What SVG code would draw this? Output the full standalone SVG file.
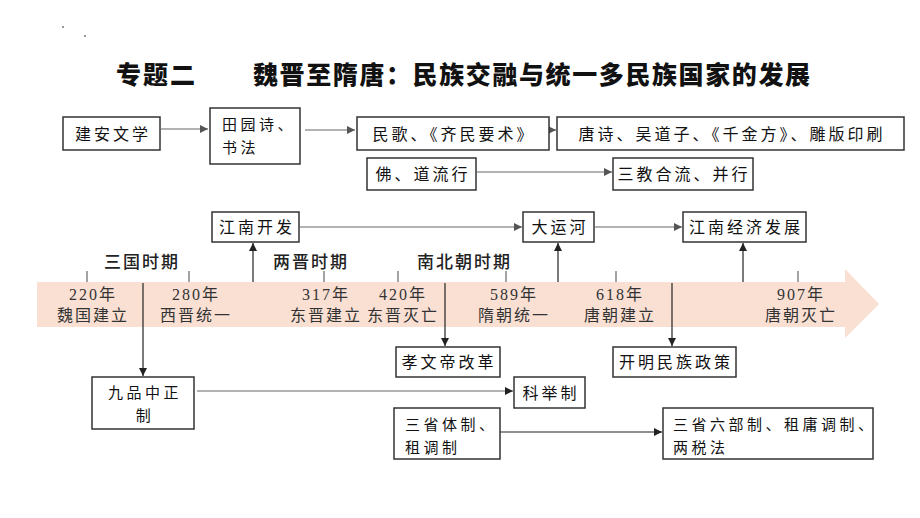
<svg xmlns="http://www.w3.org/2000/svg" width="920" height="518" viewBox="0 0 920 518">
<defs>
<marker id="ah" markerUnits="userSpaceOnUse" markerWidth="9" markerHeight="9" refX="8" refY="4" orient="auto">
<path d="M0,0 L8,4 L0,8 z" fill="#222"/>
</marker>
<marker id="ahg" markerUnits="userSpaceOnUse" markerWidth="9" markerHeight="9" refX="8" refY="4" orient="auto">
<path d="M0,0 L8,4 L0,8 z" fill="#555"/>
</marker>
<style>
.box{fill:#fff;stroke:#333;stroke-width:1.5}
.t{font-family:"Noto Sans CJK SC","Noto Sans",sans-serif;font-size:16px;letter-spacing:3px;fill:#111}
.t2{font-family:"Noto Sans CJK SC","Noto Sans",sans-serif;font-size:15px;letter-spacing:3.5px;fill:#111}
.c{text-anchor:middle}
.yr{font-family:"Liberation Serif","Noto Sans CJK SC",serif;font-size:16px;letter-spacing:2px;fill:#333;text-anchor:middle}
.per{font-family:"Noto Sans CJK SC",sans-serif;font-size:17px;font-weight:500;letter-spacing:2px;fill:#222}
.title{font-family:"Noto Sans CJK SC",sans-serif;font-size:25px;font-weight:900;fill:#111}
.ln{stroke:#222;stroke-width:1.2;fill:none}
.lg{stroke:#666;stroke-width:1.2;fill:none}
.tick{stroke:#666;stroke-width:1.2}
</style>
</defs>
<rect width="920" height="518" fill="#fff"/>
<rect x="62" y="26" width="2" height="2" fill="#999"/>
<rect x="84" y="35" width="2" height="2" fill="#999"/>
<text class="title" x="116" y="84" letter-spacing="2">专题二</text>
<text class="title" x="253" y="84" letter-spacing="1.6">魏晋至隋唐：民族交融与统一多民族国家的发展</text>

<g id="timeline">
<path d="M37,282 H845 V269 L879,304 L845,338 V327 H37 Z" fill="#F9E0D3"/>
<line class="tick" x1="87" y1="271" x2="87" y2="282"/>
<line class="tick" x1="189" y1="271" x2="189" y2="282"/>
<line class="tick" x1="324" y1="271" x2="324" y2="282"/>
<line class="tick" x1="398" y1="271" x2="398" y2="282"/>
<line class="tick" x1="506" y1="271" x2="506" y2="282"/>
<line class="tick" x1="616" y1="271" x2="616" y2="282"/>
<line class="tick" x1="798" y1="271" x2="798" y2="282"/>
<text class="per" x="104" y="268">三国时期</text>
<text class="per" x="273" y="268">两晋时期</text>
<text class="per" x="417" y="268">南北朝时期</text>
<text class="yr" x="93" y="300">220年</text><text class="yr" x="93" y="321">魏国建立</text>
<text class="yr" x="196" y="300">280年</text><text class="yr" x="196" y="321">西晋统一</text>
<text class="yr" x="326" y="300">317年</text><text class="yr" x="326" y="321">东晋建立</text>
<text class="yr" x="403" y="300">420年</text><text class="yr" x="403" y="321">东晋灭亡</text>
<text class="yr" x="514" y="300">589年</text><text class="yr" x="514" y="321">隋朝统一</text>
<text class="yr" x="620" y="300">618年</text><text class="yr" x="620" y="321">唐朝建立</text>
<text class="yr" x="801" y="300">907年</text><text class="yr" x="801" y="321">唐朝灭亡</text>
</g>

<g id="connectors">
<line class="lg" x1="161" y1="129" x2="208" y2="129" marker-end="url(#ahg)"/>
<line class="lg" x1="305" y1="130" x2="355" y2="130" marker-end="url(#ahg)"/>
<line class="lg" x1="549" y1="130" x2="556" y2="130" marker-end="url(#ahg)"/>
<line class="lg" x1="477" y1="172" x2="612" y2="172" marker-end="url(#ahg)"/>
<line class="lg" x1="300" y1="227" x2="522" y2="227" marker-end="url(#ahg)"/>
<line class="lg" x1="595" y1="227" x2="682" y2="227" marker-end="url(#ahg)"/>
<line class="ln" x1="253" y1="282" x2="253" y2="243" marker-end="url(#ah)"/>
<line class="ln" x1="558" y1="282" x2="558" y2="243" marker-end="url(#ah)"/>
<line class="ln" x1="743" y1="282" x2="743" y2="243" marker-end="url(#ah)"/>
<line class="ln" x1="143" y1="283" x2="143" y2="376" marker-end="url(#ah)"/>
<line class="ln" x1="445" y1="283" x2="445" y2="346" marker-end="url(#ah)"/>
<line class="ln" x1="672" y1="283" x2="672" y2="346" marker-end="url(#ah)"/>
<line class="lg" x1="197" y1="391" x2="513" y2="391" marker-end="url(#ah)"/>
<line class="ln" x1="497" y1="432" x2="662" y2="432" marker-end="url(#ah)"/>
</g>

<g id="n-jianan"><rect class="box" x="63" y="117" width="97" height="33"/><text class="t c" x="113" y="140">建安文学</text></g>
<g id="n-tianyuan"><rect class="box" x="210" y="108" width="90" height="56"/><text class="t2" x="222" y="130">田园诗、</text><text class="t2" x="222" y="153">书法</text></g>
<g id="n-minge"><rect class="box" x="357" y="117" width="192" height="33"/><text class="t c" x="454" y="140" letter-spacing="4">民歌、《齐民要术》</text></g>
<g id="n-tangshi"><rect class="box" x="557" y="117" width="347" height="33"/><text class="t c" x="732" y="140" letter-spacing="3.6">唐诗、吴道子、《千金方》、雕版印刷</text></g>
<g id="n-fodao"><rect class="box" x="367" y="158" width="109" height="32"/><text class="t c" x="423" y="180">佛、道流行</text></g>
<g id="n-sanjiao"><rect class="box" x="613" y="158" width="140" height="32"/><text class="t c" x="684" y="180">三教合流、并行</text></g>
<g id="n-jiangnan"><rect class="box" x="212" y="212" width="87" height="30"/><text class="t c" x="257" y="233">江南开发</text></g>
<g id="n-yunhe"><rect class="box" x="523" y="212" width="71" height="30"/><text class="t c" x="560" y="233">大运河</text></g>
<g id="n-jingji"><rect class="box" x="683" y="212" width="123" height="30"/><text class="t c" x="746" y="233">江南经济发展</text></g>
<g id="n-xiaowen"><rect class="box" x="396" y="347" width="104" height="30"/><text class="t c" x="449" y="368">孝文帝改革</text></g>
<g id="n-kaiming"><rect class="box" x="613" y="347" width="123" height="30"/><text class="t c" x="676" y="368">开明民族政策</text></g>
<g id="n-jiupin"><rect class="box" x="92" y="377" width="102" height="52"/><text class="t2 c" x="145" y="398">九品中正</text><text class="t2 c" x="145" y="421">制</text></g>
<g id="n-keju"><rect class="box" x="514" y="377" width="71" height="31"/><text class="t c" x="551" y="399">科举制</text></g>
<g id="n-sansheng"><rect class="box" x="394" y="408" width="106" height="51"/><text class="t2" x="405" y="430">三省体制、</text><text class="t2" x="405" y="453">租调制</text></g>
<g id="n-liubu"><rect class="box" x="663" y="408" width="210" height="51"/><text class="t2" x="673" y="430">三省六部制、租庸调制、</text><text class="t2" x="673" y="453">两税法</text></g>
</svg>
